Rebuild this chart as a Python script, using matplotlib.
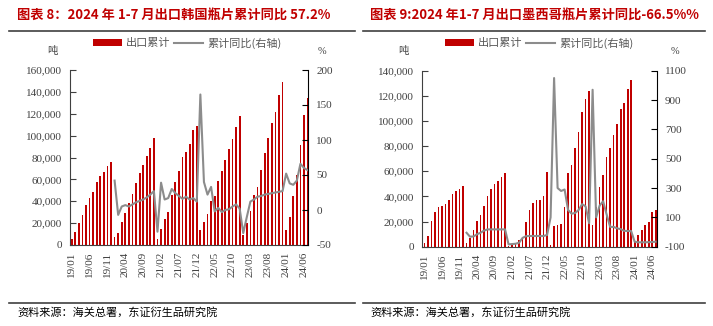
import numpy as np
import matplotlib.pyplot as plt
from matplotlib.patches import Patch
from matplotlib.lines import Line2D

plt.rcParams['font.family'] = ['Noto Sans CJK SC', 'DejaVu Sans']

months = [f"{y}/{m:02d}" for y in range(19, 25) for m in range(1, 13)][:67]
tick_labels = ['19/01', '19/06', '19/11', '20/04', '20/09', '21/02', '21/07',
               '21/12', '22/05', '22/10', '23/03', '23/08', '24/01', '24/06']

# 出口韩国瓶片累计 (吨)
korea_export = [
    5500, 11600, 20500, 27800, 36400, 43400, 48900, 57500, 63300, 67000, 72500, 76100,
    7600, 11000, 21400, 29700, 38500, 46800, 56300, 65400, 73400, 81000, 88400, 97900,
    5200, 14700, 23900, 30300, 45600, 57300, 67700, 80200, 85000, 92400, 105000, 108700,
    13700, 21300, 28000, 40500, 44500, 58400, 67800, 77600, 88000, 96500, 107500, 117800,
    9500, 19800, 31400, 46000, 53000, 68500, 83700, 97400, 111100, 121700, 137000, 148600,
    14000, 25500, 45000, 64000, 91000, 118700, 134000,
]
# 累计同比 (%), 2019 年无数据
korea_yoy = [np.nan] * 12 + [
    42, -7, 5, 7, 5, 8, 11, 13, 15, 18, 22, 27,
    -31, 39, 15, 17, 30, 24, 20, 16, 19, 15, 17, 12,
    165, 40, 22, 33, -2, 3, -3, 0, 1, 5, 8, 2,
    -33, -10, 12, 15, 19, 20, 22, 23, 24, 25, 26, 27,
    52, 38, 36, 42, 66, 60, 57,
]

# 出口墨西哥瓶片累计 (吨)
mexico_export = [
    3200, 8500, 20200, 27600, 31900, 32400, 34000, 37200, 42000, 44100, 46200, 48400,
    2700, 6700, 13300, 20500, 25300, 32400, 40400, 45700, 50000, 52600, 55800, 58500,
    400, 1000, 2000, 5000, 8000, 19900, 29200, 35100, 37200, 37200, 40400, 59800,
    1500, 16500, 17300, 18100, 31900, 58500, 65100, 78400, 91600, 106800, 117400, 124100,
    17300, 31900, 47800, 57100, 71700, 78400, 89000, 97700, 109500, 114300, 125400, 132800,
    4000, 9300, 13300, 17300, 19900, 27900, 29200,
]
mexico_yoy = [np.nan] * 12 + [
    -5, -32, -30, -15, -5, 10, 18, 18, 18, 18, 18, 18,
    -84, -82, -80, -73, -40, -28, -27, -27, -27, -27, -27, -20,
    100, 1050, 300, 280, 290, 150, 125, 130, 150, 190, 175, 60,
    970, 100, 180, 210, 120, 35, 35, 25, 20, 8, 7, 7,
    -66, -70, -70, -70, -69, -68, -66,
]

W, H = 713, 326
bar_color = '#C00000'
line_color = '#8C8C8C'
tick_color = '#404040'
serif = ['Liberation Serif', 'DejaVu Serif']


def px(x, y):
    return x / W, 1 - y / H


def draw_panel(fig, rect, export, yoy, ylim_l, yticks_l, ylim_r, yticks_r, xlim):
    ax = fig.add_axes(rect)
    x = np.arange(len(export))
    ax.bar(x, export, width=0.5, color=bar_color, linewidth=0)
    ax.set_xlim(*xlim)
    ax.set_ylim(*ylim_l)
    ax.set_yticks(yticks_l)
    ax.set_yticklabels([f"{v:,}" for v in yticks_l], family=serif, fontsize=8, color=tick_color)
    ax.set_xticks([months.index(t) for t in tick_labels])
    ax.set_xticklabels(tick_labels, rotation=90, family=serif, fontsize=8, color=tick_color)
    ax.tick_params(axis='x', length=0, pad=5)
    ax.tick_params(axis='y', direction='in', length=4, color=tick_color, pad=6)
    for s in ['top', 'right']:
        ax.spines[s].set_visible(False)
    ax.spines['left'].set_color(tick_color)
    ax.spines['bottom'].set_color(tick_color)

    ax2 = ax.twinx()
    ax2.plot(x, yoy, color=line_color, linewidth=1.5)
    ax2.set_ylim(*ylim_r)
    ax2.set_yticks(yticks_r)
    ax2.set_yticklabels([str(v) for v in yticks_r], family=serif, fontsize=8, color=tick_color)
    ax2.tick_params(axis='y', direction='in', length=4, color='black', pad=6)
    for s in ['top', 'left', 'bottom']:
        ax2.spines[s].set_visible(False)
    ax2.spines['right'].set_color('black')
    return ax


fig = plt.figure(figsize=(W / 100, H / 100), dpi=100)

draw_panel(fig, [70 / W, 81 / H, 238 / W, 175 / H], korea_export, korea_yoy,
           (0, 160000), list(range(0, 160001, 20000)),
           (-50, 200), list(range(-50, 201, 50)), (-0.48, 66.12))
draw_panel(fig, [422.3 / W, 79.3 / H, 234.4 / W, 176 / H], mexico_export, mexico_yoy,
           (0, 140000), list(range(0, 140001, 20000)),
           (-100, 1100), list(range(-100, 1101, 200)), (-0.63, 66.3))

titles = ['图表 8：2024 年 1-7 月出口韩国瓶片累计同比 57.2%',
          '图表 9:2024 年1-7 月出口墨西哥瓶片累计同比-66.5%%']
title_x = [17, 370]
rule_x = [(9, 355), (363, 705)]
legend_cx = [187, 539]
unit_l = [52, 403]
unit_r = [322, 675]

for i in range(2):
    fig.text(*px(title_x[i], 16), titles[i], color=bar_color, fontsize=9.5,
             fontweight='bold', va='center', ha='left')
    fig.add_artist(Line2D([rule_x[i][0] / W, rule_x[i][1] / W], [1 - 31 / H] * 2,
                          transform=fig.transFigure, color='#404040', linewidth=1.2))
    fig.add_artist(Line2D([rule_x[i][0] / W, rule_x[i][1] / W], [1 - 302.5 / H] * 2,
                          transform=fig.transFigure, color='#404040', linewidth=1.2))
    fig.text(*px(title_x[i], 312), '资料来源：海关总署，东证衍生品研究院', fontsize=8,
             color='black', va='center', ha='left')
    fig.text(*px(unit_l[i], 51), '吨', fontsize=7.5, color=tick_color, ha='center', va='center')
    fig.text(*px(unit_r[i], 51), '%', fontsize=7.5, color=tick_color, ha='center', va='center',
             family=serif)
    handles = [Patch(facecolor=bar_color, edgecolor='none', label='出口累计'),
               Line2D([], [], color=line_color, linewidth=1.5, label='累计同比(右轴)')]
    leg = fig.legend(handles=handles, loc='center', bbox_to_anchor=px(legend_cx[i], 43),
                     ncol=2, frameon=False, fontsize=8, handlelength=2.6, handleheight=0.6,
                     handletextpad=0.4, columnspacing=0.3)
    for t in leg.get_texts():
        t.set_color('#595959')

fig.savefig('out.png', dpi=100)
